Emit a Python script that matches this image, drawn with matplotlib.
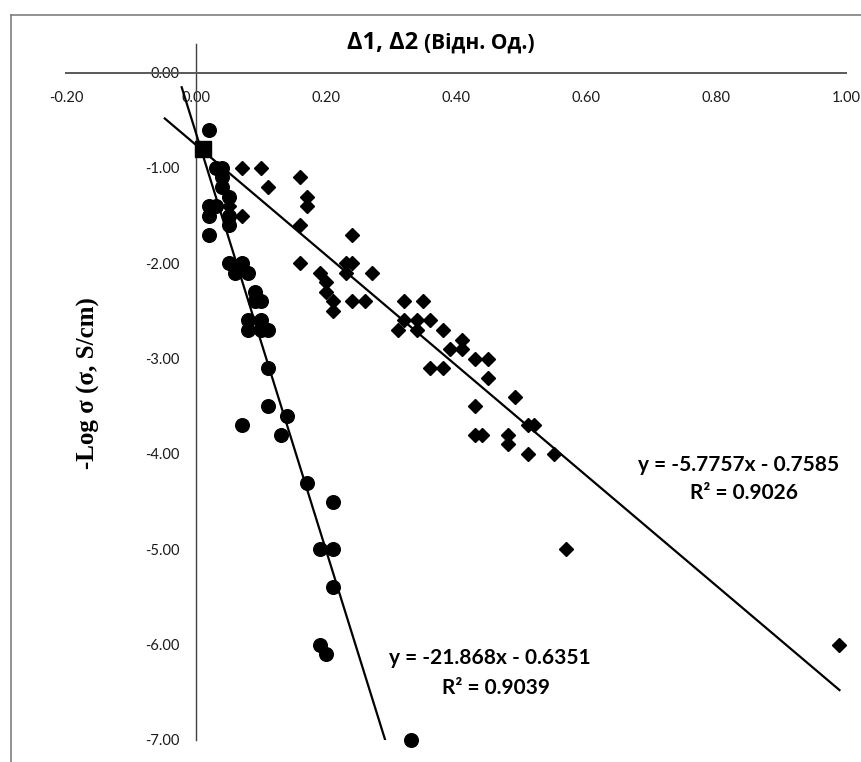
import numpy as np
import matplotlib
matplotlib.use("Agg")
from matplotlib import pyplot as plt
from matplotlib.lines import Line2D

# Delta1 series (circles)
circ_x = [0.02, 0.03, 0.04, 0.04, 0.04, 0.05, 0.02, 0.03, 0.02, 0.05, 0.05, 0.02,
          0.05, 0.07, 0.06, 0.08, 0.09, 0.09, 0.10, 0.08, 0.10, 0.08, 0.10, 0.11,
          0.11, 0.11, 0.14, 0.07, 0.13, 0.17, 0.21, 0.19, 0.21, 0.21, 0.19, 0.20, 0.33]
circ_y = [-0.6, -1.0, -1.0, -1.1, -1.2, -1.3, -1.4, -1.4, -1.5, -1.5, -1.6, -1.7,
          -2.0, -2.0, -2.1, -2.1, -2.3, -2.4, -2.4, -2.6, -2.6, -2.7, -2.7, -2.7,
          -3.1, -3.5, -3.6, -3.7, -3.8, -4.3, -4.5, -5.0, -5.0, -5.4, -6.0, -6.1, -7.0]

# Delta2 series (diamonds)
diam_x = [0.07, 0.10, 0.11, 0.05, 0.07,
          0.16, 0.17, 0.17, 0.16, 0.24, 0.16, 0.19, 0.20, 0.20, 0.21, 0.21,
          0.23, 0.24, 0.23, 0.27, 0.24, 0.26, 0.32, 0.35, 0.32, 0.34, 0.36,
          0.31, 0.34, 0.38, 0.41, 0.39, 0.41, 0.43, 0.45, 0.36, 0.38, 0.45,
          0.49, 0.43, 0.51, 0.52, 0.43, 0.44, 0.48, 0.48, 0.51, 0.55, 0.57, 0.99]
diam_y = [-1.0, -1.0, -1.2, -1.4, -1.5,
          -1.1, -1.3, -1.4, -1.6, -1.7, -2.0, -2.1, -2.2, -2.3, -2.4, -2.5,
          -2.0, -2.0, -2.1, -2.1, -2.4, -2.4, -2.4, -2.4, -2.6, -2.6, -2.6,
          -2.7, -2.7, -2.7, -2.8, -2.9, -2.9, -3.0, -3.0, -3.1, -3.1, -3.2,
          -3.4, -3.5, -3.7, -3.7, -3.8, -3.8, -3.8, -3.9, -4.0, -4.0, -5.0, -6.0]

# common start point
start_x = [0.01]
start_y = [-0.8]

# linear trend lines: slope, intercept, R^2 and x span
circ_fit = (-21.868, -0.6351, 0.9039)
circ_span = [-0.022, 0.33]
diam_fit = (-5.7757, -0.7585, 0.9026)
diam_span = [-0.048, 0.99]

x_ticks = [-0.2, 0.0, 0.2, 0.4, 0.6, 0.8, 1.0]
y_ticks = [0.0, -1.0, -2.0, -3.0, -4.0, -5.0, -6.0, -7.0]

fig = plt.figure(figsize=(8.62, 7.62), dpi=100)
ax = fig.add_axes([66 / 862, 22 / 762, 780 / 862, 696 / 762])
ax.set_xlim(-0.2, 1.0)
ax.set_ylim(-7.0, 0.3)

for name in ["top", "right"]:
    ax.spines[name].set_visible(False)
ax.spines["left"].set_position(("data", 0))
ax.spines["bottom"].set_position(("data", 0))
ax.spines["left"].set_color("#404040")
ax.spines["bottom"].set_color("#595959")
ax.spines["left"].set_linewidth(1.0)
ax.spines["bottom"].set_linewidth(1.4)

ax.set_xticks(x_ticks)
ax.set_yticks(y_ticks)
ax.set_xticklabels(["%.2f" % v for v in x_ticks])
ax.set_yticklabels(["%.2f" % v for v in y_ticks])
ax.tick_params(axis="x", length=0, pad=13, labelsize=10.5, labelcolor="#1a1a1a")
ax.tick_params(axis="y", length=0, pad=12, labelsize=10.5, labelcolor="#1a1a1a")
for lab in ax.get_xticklabels() + ax.get_yticklabels():
    lab.set_family(["Lato", "DejaVu Sans"])

# trend lines
for (m, b, r2), span in [(circ_fit, circ_span), (diam_fit, diam_span)]:
    xs = np.array(span)
    ax.plot(xs, m * xs + b, color="black", lw=1.6, zorder=3)

ax.plot(circ_x, circ_y, "o", color="black", ms=9.8, zorder=4, clip_on=False)
ax.plot(diam_x, diam_y, "D", color="black", ms=7.5, zorder=4, clip_on=False)
ax.plot(start_x, start_y, "s", color="black", ms=11.5, zorder=5)

eq_font = dict(family=["Lato", "DejaVu Sans"], fontsize=15, fontweight="bold", ha="center", va="center")
ax.text(0.835, -4.115, "y = %.4fx - %.4f" % (diam_fit[0], -diam_fit[1]), **eq_font)
ax.text(0.843, -4.41, "R² = %.4f" % diam_fit[2], **eq_font)
ax.text(0.452, -6.14, "y = %.3fx - %.4f" % (circ_fit[0], -circ_fit[1]), **eq_font)
ax.text(0.462, -6.455, "R² = %.4f" % circ_fit[2], **eq_font)

# axis titles
fig.text(418 / 862, 1 - 43 / 762, "Δ1, Δ2", family=["Open Sans", "DejaVu Sans"],
         fontsize=17, fontweight="bold", ha="right", va="center")
fig.text(424 / 862, 1 - 43 / 762, "(Відн. Од.)", family=["Open Sans", "DejaVu Sans"],
         fontsize=15, fontweight="bold", ha="left", va="center")
fig.text(88 / 862, 1 - 383 / 762, "-Log σ (σ, S/cm)", family=["Liberation Serif", "DejaVu Serif"],
         fontsize=18, fontweight="bold", rotation=90, ha="center", va="center")

# chart frame
fig.add_artist(Line2D([11 / 862, 11 / 862], [0, 1 - 15 / 762], color="#7f7f7f", lw=1.2))
fig.add_artist(Line2D([11 / 862, 1], [1 - 15 / 762, 1 - 15 / 762], color="#7f7f7f", lw=1.2))

fig.savefig("out.png", dpi=100)
